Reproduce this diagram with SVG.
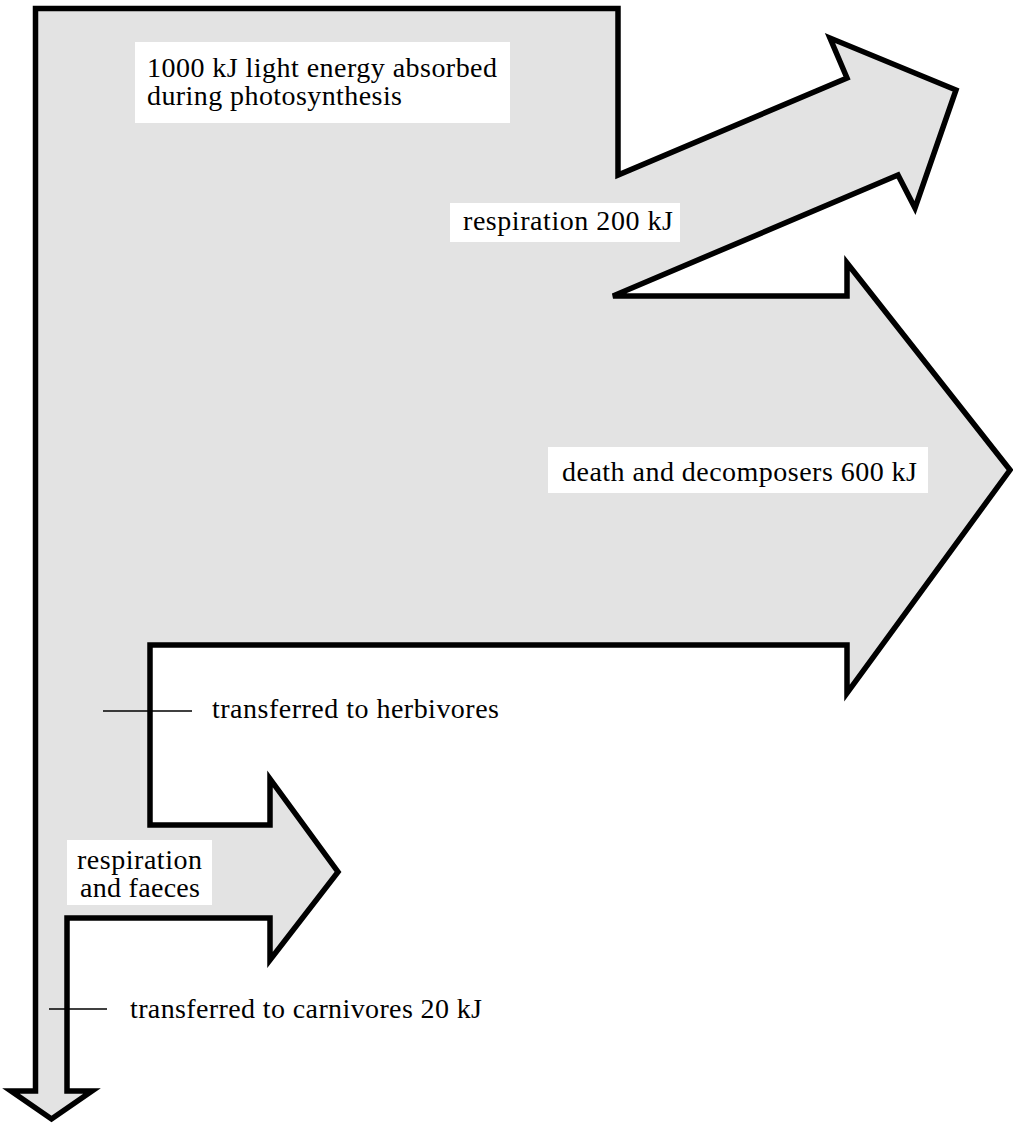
<svg xmlns="http://www.w3.org/2000/svg" width="1013" height="1123" viewBox="0 0 1013 1123">
<style>
.flow{fill:#e3e3e3;stroke:#000;stroke-width:5.5;stroke-linejoin:miter;stroke-miterlimit:4}
.box{fill:#fff}
.lbl{font-family:"Liberation Serif","Times New Roman",serif;font-size:28px;fill:#000}
.lead{stroke:#000;stroke-width:1.5;fill:none}
</style>
<rect width="1013" height="1123" fill="#fff"/>
<g id="energy-flow">
<polygon class="flow" points="35.5,8.5 618,8.5 618,175 847,78 830,38 956,90 915,208 898,175 613,296 847,296 847,263 1010,470 847,693 847,645 150,645 150,825 270,825 270,779 338,872 270,960 270,918 67,918 67,1091 92,1091 51.5,1119 11,1091 35.5,1091"/>
</g>
<g id="connectors">
<line class="lead" x1="103" y1="711" x2="192" y2="711"/>
<line class="lead" x1="49" y1="1009" x2="107" y2="1009"/>
</g>
<g id="label-absorbed">
<rect class="box" x="135" y="42" width="375" height="81"/>
<text class="lbl" x="147" y="77" textLength="350" lengthAdjust="spacing">1000 kJ light energy absorbed</text>
<text class="lbl" x="147" y="105" textLength="255" lengthAdjust="spacing">during photosynthesis</text>
</g>
<g id="label-respiration">
<rect class="box" x="450" y="203" width="230" height="39"/>
<text class="lbl" x="463" y="230" textLength="210" lengthAdjust="spacing">respiration 200 kJ</text>
</g>
<g id="label-death">
<rect class="box" x="548" y="447" width="380" height="46"/>
<text class="lbl" x="562" y="481" textLength="355" lengthAdjust="spacing">death and decomposers 600 kJ</text>
</g>
<g id="label-herbivores">
<text class="lbl" x="212" y="718" textLength="287" lengthAdjust="spacing">transferred to herbivores</text>
</g>
<g id="label-faeces">
<rect class="box" x="67" y="840" width="145" height="65"/>
<text class="lbl" x="77" y="869" textLength="125" lengthAdjust="spacing">respiration</text>
<text class="lbl" x="80" y="897" textLength="120" lengthAdjust="spacing">and faeces</text>
</g>
<g id="label-carnivores">
<text class="lbl" x="130" y="1018" textLength="352" lengthAdjust="spacing">transferred to carnivores 20 kJ</text>
</g>
</svg>
